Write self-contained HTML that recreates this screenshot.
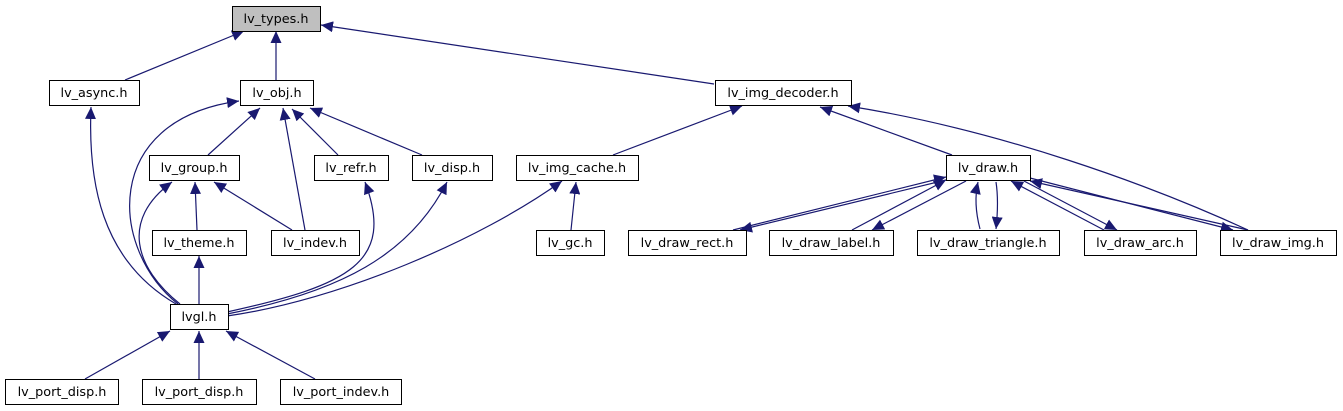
<!DOCTYPE html>
<html><head><meta charset="utf-8"><style>
html,body{margin:0;padding:0;background:#fff;width:1343px;height:411px;overflow:hidden}
svg text{font-family:"DejaVu Sans","Liberation Sans",sans-serif;font-size:12.8px;fill:#000}
</style></head><body>
<svg width="1343" height="411" viewBox="0 0 1343 411" xmlns="http://www.w3.org/2000/svg">
<defs>
<marker id="a" markerUnits="userSpaceOnUse" markerWidth="13" markerHeight="11" refX="12" refY="5.5" orient="auto">
<path d="M0,0 L12,5.5 L0,11 z" fill="#191970"/></marker>
</defs>
<g fill="none" stroke="#191970" stroke-width="1.2" marker-end="url(#a)">
<path d="M125,80 L244,31"/>
<path d="M276,80 L276,31"/>
<path d="M714,84 L321,25"/>
<path d="M176,304 C100,260 88,180 91,107"/>
<path d="M178,304 C110,250 100,120 239,101"/>
<path d="M208,155 L260,108"/>
<path d="M338,155 L292,109"/>
<path d="M422,155 L310,108"/>
<path d="M305,230 L283,108"/>
<path d="M197,230 L195,182"/>
<path d="M292,230 L214,182"/>
<path d="M180,304 C135,268 120,220 172,182"/>
<path d="M199,304 L199,256"/>
<path d="M227,312 C350,285 395,262 365,182"/>
<path d="M227,314 C340,292 410,255 447,182"/>
<path d="M227,316 C340,300 480,240 562,181"/>
<path d="M613,155 L742,106"/>
<path d="M571,230 L576,182"/>
<path d="M952,155 L820,107"/>
<path d="M1248,230 C1150,185 1000,130 848,106"/>
<path d="M733,230 L946,177"/>
<path d="M950,179 L740,230"/>
<path d="M852,230 L946,180"/>
<path d="M966,181 L872,230"/>
<path d="M980,229 C975,210 975,195 978,182"/>
<path d="M996,182 C998,195 998,210 996,229"/>
<path d="M1104,230 L1011,181"/>
<path d="M1024,181 L1117,230"/>
<path d="M1248,230 L1030,181"/>
<path d="M1030,178 L1233,230"/>
<path d="M85,379 L170,331"/>
<path d="M199,379 L199,331"/>
<path d="M315,379 L226,331"/>
</g>
<g stroke="#000" stroke-width="1" fill="#fff">
<rect x="232.5" y="6.5" width="88" height="25" fill="#bfbfbf"/>
<rect x="49.5" y="80.5" width="90" height="25"/>
<rect x="240.5" y="80.5" width="73" height="25"/>
<rect x="715.5" y="80.5" width="136" height="25"/>
<rect x="149.5" y="155.5" width="90" height="25"/>
<rect x="314.5" y="155.5" width="74" height="25"/>
<rect x="412.5" y="155.5" width="80" height="25"/>
<rect x="516.5" y="155.5" width="122" height="25"/>
<rect x="946.5" y="155.5" width="84" height="25"/>
<rect x="152.5" y="230.5" width="94" height="25"/>
<rect x="271.5" y="230.5" width="88" height="25"/>
<rect x="536.5" y="230.5" width="68" height="25"/>
<rect x="628.5" y="230.5" width="118" height="25"/>
<rect x="769.5" y="230.5" width="124" height="25"/>
<rect x="917.5" y="230.5" width="142" height="25"/>
<rect x="1084.5" y="230.5" width="112" height="25"/>
<rect x="1220.5" y="230.5" width="116" height="25"/>
<rect x="170.5" y="304.5" width="58" height="25"/>
<rect x="5.5" y="379.5" width="113" height="25"/>
<rect x="142.5" y="379.5" width="114" height="25"/>
<rect x="280.5" y="379.5" width="121" height="25"/>
</g>
<g text-anchor="middle">
<text x="276" y="23">lv_types.h</text>
<text x="94" y="97">lv_async.h</text>
<text x="277" y="97">lv_obj.h</text>
<text x="783" y="97">lv_img_decoder.h</text>
<text x="194" y="172">lv_group.h</text>
<text x="351" y="172">lv_refr.h</text>
<text x="452" y="172">lv_disp.h</text>
<text x="577" y="172">lv_img_cache.h</text>
<text x="988" y="172">lv_draw.h</text>
<text x="199" y="247">lv_theme.h</text>
<text x="315" y="247">lv_indev.h</text>
<text x="570" y="247">lv_gc.h</text>
<text x="687" y="247">lv_draw_rect.h</text>
<text x="831" y="247">lv_draw_label.h</text>
<text x="988" y="247">lv_draw_triangle.h</text>
<text x="1140" y="247">lv_draw_arc.h</text>
<text x="1278" y="247">lv_draw_img.h</text>
<text x="199" y="321">lvgl.h</text>
<text x="62" y="396">lv_port_disp.h</text>
<text x="199" y="396">lv_port_disp.h</text>
<text x="341" y="396">lv_port_indev.h</text>
</g>
</svg>
</body></html>
